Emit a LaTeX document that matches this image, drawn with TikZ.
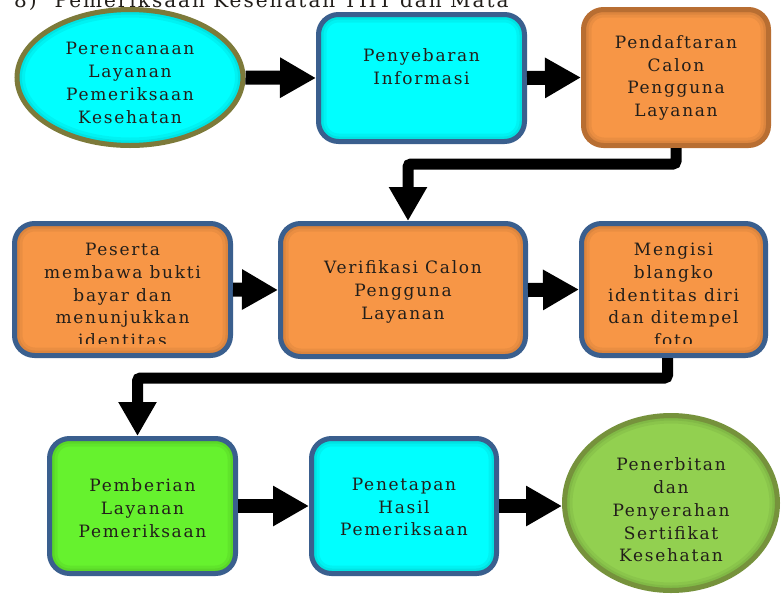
\documentclass[tikz,border=0pt]{standalone}
\usepackage{fontspec}
\setmainfont{DejaVu Serif}[LetterSpace=10]
\usetikzlibrary{arrows.meta,shapes.geometric,calc}
\definecolor{cyanF}{HTML}{00FFFF}
\definecolor{orangeF}{HTML}{F79646}
\definecolor{greenF}{HTML}{66F22E}
\definecolor{lgreenF}{HTML}{92D050}
\definecolor{blueB}{HTML}{3A5F8E}
\definecolor{oliveB}{HTML}{7D7A3A}
\definecolor{brownB}{HTML}{B86E32}
\definecolor{greenB}{HTML}{76923C}
\definecolor{txt}{HTML}{221E1A}
\begin{document}
\begin{tikzpicture}[x=1pt,y=-1pt,
  box/.style={rectangle, rounded corners=20pt, draw=blueB, line width=5pt, inner sep=0pt,
    path picture={\foreach \w/\o in {16/0.05,10/0.06,5/0.07}{
      \draw[line width=\w pt, black, opacity=\o, rounded corners=20pt]
        (path picture bounding box.south west) rectangle (path picture bounding box.north east);}}},
  oval/.style={ellipse, line width=5pt, inner sep=0pt,
    path picture={\foreach \w/\o in {16/0.05,10/0.06,5/0.07}{
      \draw[line width=\w pt, black, opacity=\o]
        let \p1=(path picture bounding box.north east), \p2=(path picture bounding box.south west)
        in ($(\p1)!0.5!(\p2)$) ellipse [x radius={(\x1-\x2)/2}, y radius={(\y1-\y2)/2}];}}},
  lbl/.style={align=center, inner sep=0pt, text=txt, font=\fontsize{17}{22.8}\selectfont},
  flow/.style={line width=14pt, -{Triangle[length=36pt,width=38pt]}},
  elbow/.style={line width=11pt, rounded corners=3pt, -{Triangle[length=34pt,width=36pt]}},
]
\useasboundingbox (0,0) rectangle (781,595);
\fill[white] (0,0) rectangle (781,595);
\clip (0,0) rectangle (781,595);

\node[anchor=base west, inner sep=0pt, text=txt, font=\fontsize{20}{20}\selectfont] (title) at (14,7)
  {8)\hspace{18pt}Pemeriksaan Kesehatan THT dan Mata};

% row 1
\node[oval, draw=oliveB, fill=cyanF, minimum width=226pt, minimum height=136pt] (e1) at (130,77.5) {};
\node[lbl] (t1) at (130,83) {Perencanaan\\Layanan\\Pemeriksaan\\Kesehatan};
\node[box, fill=cyanF, minimum width=206pt, minimum height=127pt] (b2) at (421.5,78) {};
\node[lbl] (t2) at (421.5,67) {Penyebaran\\Informasi};
\node[box, draw=brownB, fill=orangeF, minimum width=185pt, minimum height=136pt] (b3) at (676,77.5) {};
\node[lbl] (t3) at (676,78) {Pendaftaran\\Calon\\Pengguna\\Layanan};

% row 2
\node[box, fill=orangeF, minimum width=216pt, minimum height=132pt] (b4) at (122.5,289.5) {};
\begin{scope}
  \clip (15,228) rectangle (230,343);
  \node[lbl] (t4) at (122.5,295) {Peserta\\membawa bukti\\bayar dan\\menunjukkan\\identitas};
\end{scope}
\node[box, fill=orangeF, minimum width=245pt, minimum height=133pt] (b5) at (403,290) {};
\node[lbl] (t5) at (403,292) {Verifikasi Calon\\Pengguna\\Layanan};
\node[box, fill=orangeF, minimum width=184pt, minimum height=132pt] (b6) at (673.5,289.5) {};
\begin{scope}
  \clip (583,228) rectangle (765,343);
  \node[lbl] (t6) at (673.5,295) {Mengisi\\blangko\\identitas diri\\dan ditempel\\foto};
\end{scope}

% row 3
\node[box, fill=greenF, minimum width=186pt, minimum height=135pt] (b7) at (142.5,506) {};
\node[lbl] (t7) at (142.5,508) {Pemberian\\Layanan\\Pemeriksaan};
\node[box, fill=cyanF, minimum width=185pt, minimum height=135pt] (b8) at (404,506) {};
\node[lbl] (t8) at (404,507) {Penetapan\\Hasil\\Pemeriksaan};
\node[oval, draw=greenB, fill=lgreenF, minimum width=213pt, minimum height=175pt] (e9) at (671,503) {};
\node[lbl] (t9) at (671,510) {Penerbitan\\dan\\Penyerahan\\Sertifikat\\Kesehatan};

% connectors
\draw[flow] (e1.east) -- (b2.west);
\draw[flow] (b2.east) -- (b3.west);
\draw[flow] (b4.east) -- (b5.west);
\draw[flow] (b5.east) -- (b6.west);
\draw[flow] (b7.east) -- (b8.west);
\draw[flow] (b8.east) -- (e9.west |- b8.east);
\draw[elbow] (b3.south) -- ++(0,16) -| ($(b5.north)+(5,0)$);
\draw[elbow] ($(b6.south)+(-6,0)$) -- ++(0,20) -| ($(b7.north)+(-5,0)$);
\end{tikzpicture}
\end{document}
